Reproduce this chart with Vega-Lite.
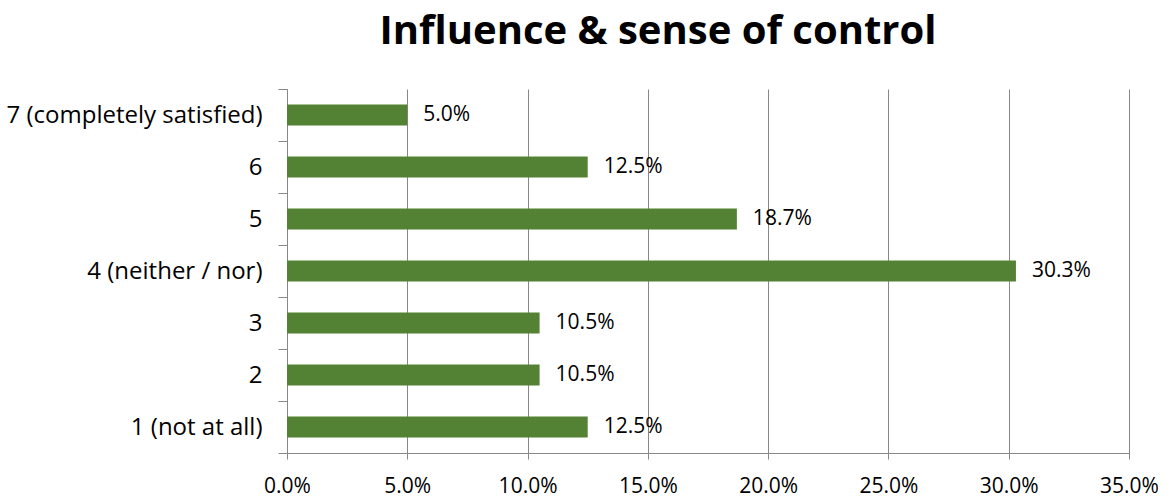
{
  "$schema": "https://vega.github.io/schema/vega-lite/v6.json",
  "width": 842,
  "height": 364,
  "autosize": {"type": "none"},
  "padding": {"left": 287, "top": 89, "right": 41, "bottom": 47},
  "background": "white",
  "config": {"view": {"stroke": null}, "font": "Open Sans"},
  "title": {
    "text": "Influence & sense of control",
    "fontSize": 40,
    "fontWeight": "bold",
    "font": "Open Sans",
    "color": "#000000",
    "anchor": "middle",
    "dx": -50,
    "offset": 25
  },
  "data": {
    "values": [
      {"category": "7 (completely satisfied)", "value": 0.05, "label": "5.0%"},
      {"category": "6", "value": 0.125, "label": "12.5%"},
      {"category": "5", "value": 0.187, "label": "18.7%"},
      {"category": "4 (neither / nor)", "value": 0.303, "label": "30.3%"},
      {"category": "3", "value": 0.105, "label": "10.5%"},
      {"category": "2", "value": 0.105, "label": "10.5%"},
      {"category": "1 (not at all)", "value": 0.125, "label": "12.5%"}
    ]
  },
  "encoding": {
    "y": {
      "field": "category",
      "type": "nominal",
      "sort": null,
      "scale": {"paddingInner": 0, "paddingOuter": 0},
      "axis": {
        "title": null,
        "tickBand": "extent",
        "domain": true,
        "domainColor": "#888888",
        "domainWidth": 1,
        "ticks": true,
        "tickColor": "#888888",
        "tickSize": 9,
        "labelFontSize": 24,
        "labelColor": "#000000",
        "labelPadding": 16,
        "labelLimit": 400,
        "grid": false
      }
    },
    "x": {
      "field": "value",
      "type": "quantitative",
      "scale": {"domain": [0, 0.35]},
      "axis": {
        "title": null,
        "format": ".1%",
        "values": [0, 0.05, 0.1, 0.15, 0.2, 0.25, 0.3, 0.35],
        "grid": true,
        "gridColor": "#888888",
        "domain": true,
        "domainColor": "#888888",
        "domainWidth": 1,
        "tickColor": "#888888",
        "tickSize": 6,
        "labelFlush": false,
        "labelFontSize": 21,
        "labelColor": "#000000",
        "labelPadding": 16
      }
    }
  },
  "layer": [
    {"mark": {"type": "bar", "color": "#548235", "height": {"band": 0.4}}},
    {
      "mark": {"type": "text", "align": "left", "dx": 16, "fontSize": 21, "color": "#000000"},
      "encoding": {"text": {"field": "label"}}
    }
  ]
}
